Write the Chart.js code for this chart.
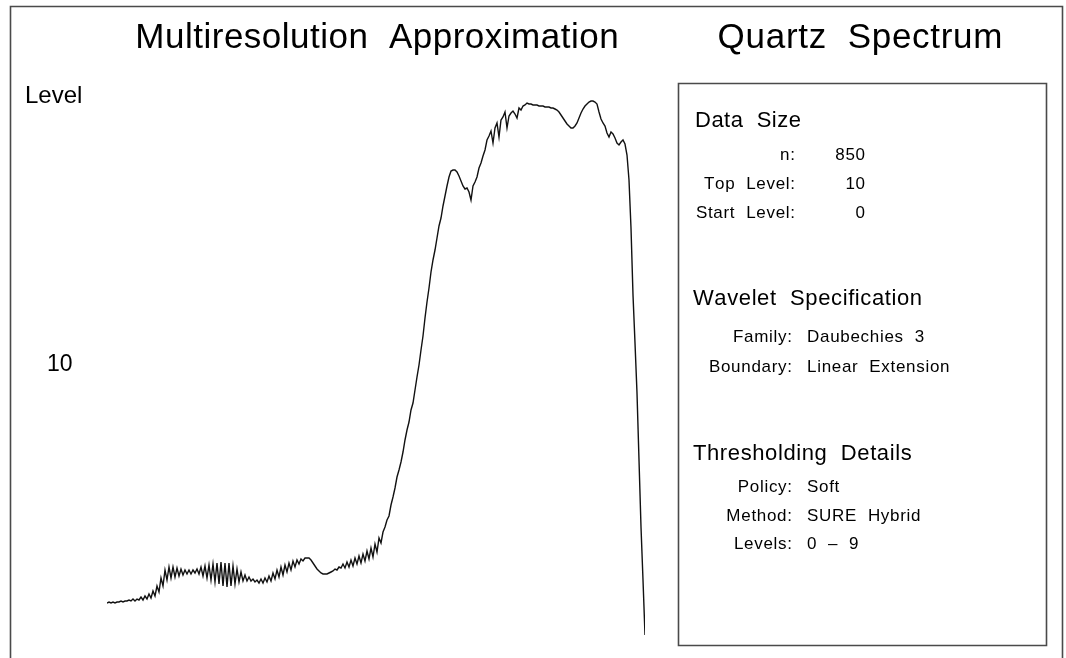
<!DOCTYPE html>
<html>
<head>
<meta charset="utf-8">
<title>Quartz Spectrum</title>
<script src="https://cdn.jsdelivr.net/npm/chart.js@4.4.1/dist/chart.umd.min.js"></script>
<style>
  html, body { margin: 0; padding: 0; background: #ffffff; }
  canvas { display: block; }
</style>
</head>
<body>
<canvas id="c" width="1066" height="658"></canvas>
<script>
// Level-10 reconstruction of the quartz spectrum, in segments (intensity, arbitrary units)
const lowBand = [
  47, 48, 47, 48, 47, 48, 48, 49, 48, 49, 49, 50, 49, 51, 49, 51, 50, 53, 50, 54,
  51, 56, 52, 59, 54, 64, 58, 72, 64, 80, 70, 83, 72, 83, 73, 82, 74, 81, 75, 80,
  76, 80, 76, 80, 77, 81, 76, 83, 74, 84, 72, 85, 70, 86, 68, 87, 66, 88, 64, 87,
  63, 87, 64, 84, 66, 81, 68, 78, 69, 75, 69, 73, 69, 71, 68, 70, 67, 71, 67, 72,
  68, 74, 69, 77, 71, 80, 73, 83, 75, 85, 78, 87, 80, 89, 83, 90, 86, 91, 89, 92,
  92, 92, 90, 87, 84, 81, 79, 77, 76, 76, 76, 77, 78, 79, 81, 80, 83, 82, 86, 82,
  88, 83, 90, 84, 92, 86, 94, 87, 96, 89, 99, 91, 102, 93, 106, 98, 112, 107
];
const rise = [
  118, 123, 130, 134, 145, 153, 162, 173, 180, 188, 198, 210, 220, 228, 240, 247,
  260, 273, 285, 300, 314, 332, 348, 362, 378, 390, 400, 412, 424, 432, 444, 454,
  464, 473, 479, 480
];
const plateau = [
  480, 478, 474, 469, 464, 461, 462, 458, 450, 464, 468, 473, 482, 487, 494, 500,
  510, 514, 519, 507, 522, 527, 513, 530, 533, 538, 522, 534, 537, 539, 536, 532,
  542, 540, 544, 545, 547, 546, 546, 545, 545, 545, 544, 544, 544, 543, 543, 543,
  542, 542, 541, 540, 538, 535, 532, 529, 526, 524, 522, 522, 524, 527, 532, 537,
  541, 544, 546, 548, 549, 549, 548, 546, 538, 531, 527, 524, 517, 513, 518, 516,
  512, 507, 505, 508, 510, 506
];
const falloff = [495, 470, 422, 355, 307, 257, 190, 123, 70, 15];

const intensity = lowBand.concat(rise, plateau, falloff);

// Text shown around the plot and in the summary panel
const titles = ['Multiresolution  Approximation', 'Quartz  Spectrum'];
const levelLabels = ['Level', '10'];
const dataSizeRows = [['n:', '850'], ['Top  Level:', '10'], ['Start  Level:', '0']];
const waveletRows = [['Family:', 'Daubechies  3'], ['Boundary:', 'Linear  Extension']];
const thresholdRows = [['Policy:', 'Soft'], ['Method:', 'SURE  Hybrid'], ['Levels:', '0  –  9']];
const sectionHeads = ['Data  Size', 'Wavelet  Specification', 'Thresholding  Details'];

const FONT = '"Liberation Sans", Arial, Helvetica, sans-serif';

// draw text one glyph at a time with extra tracking
function spaced(ctx, text, x, y, align, track) {
  const chars = Array.from(text);
  const widths = chars.map(ch => ctx.measureText(ch).width);
  const total = widths.reduce((a, b) => a + b, 0) + track * (chars.length - 1);
  let cx = align === 'right' ? x - total : (align === 'center' ? x - total / 2 : x);
  ctx.textAlign = 'left';
  ctx.textBaseline = 'alphabetic';
  chars.forEach((ch, i) => {
    ctx.fillText(ch, cx, y);
    cx += widths[i] + track;
  });
}

const decorations = {
  id: 'decorations',
  beforeDraw(chart) {
    const ctx = chart.ctx;
    ctx.save();
    ctx.fillStyle = '#ffffff';
    ctx.fillRect(0, 0, chart.width, chart.height);
    ctx.restore();
  },
  afterDraw(chart) {
    const ctx = chart.ctx;
    ctx.save();
    // outer frame (open at the bottom)
    ctx.strokeStyle = '#4a4a4a';
    ctx.lineWidth = 1.6;
    ctx.beginPath();
    ctx.moveTo(10.5, 658);
    ctx.lineTo(10.5, 6.5);
    ctx.lineTo(1062.5, 6.5);
    ctx.lineTo(1062.5, 658);
    ctx.stroke();
    // summary panel box
    ctx.beginPath();
    ctx.rect(678.5, 83.5, 368, 562);
    ctx.stroke();

    ctx.fillStyle = '#000000';
    ctx.font = '35px ' + FONT;
    spaced(ctx, titles[0], 377, 48, 'center', 0.5);
    spaced(ctx, titles[1], 860, 48, 'center', 0.7);

    ctx.font = '24px ' + FONT;
    spaced(ctx, levelLabels[0], 25, 103, 'left', 0);
    ctx.font = '23px ' + FONT;
    spaced(ctx, levelLabels[1], 47, 371, 'left', 0);

    // section headings
    ctx.font = '22px ' + FONT;
    spaced(ctx, sectionHeads[0], 695, 127, 'left', 0.5);
    spaced(ctx, sectionHeads[1], 693, 305, 'left', 0.6);
    spaced(ctx, sectionHeads[2], 693, 460, 'left', 0.6);

    // rows
    ctx.font = '17px ' + FONT;
    const t = 0.7;
    const dsY = [160, 189, 218];
    dataSizeRows.forEach((r, i) => {
      spaced(ctx, r[0], 795, dsY[i], 'right', t);
      spaced(ctx, r[1], 865, dsY[i], 'right', t);
    });
    const wvY = [342, 372];
    waveletRows.forEach((r, i) => {
      spaced(ctx, r[0], 792, wvY[i], 'right', t);
      spaced(ctx, r[1], 807, wvY[i], 'left', t);
    });
    const thY = [492, 521, 549];
    thresholdRows.forEach((r, i) => {
      spaced(ctx, r[0], 792, thY[i], 'right', t);
      spaced(ctx, r[1], 807, thY[i], 'left', t);
    });
    ctx.restore();
  }
};

new Chart(document.getElementById('c'), {
  type: 'line',
  data: {
    datasets: [{
      data: intensity.map((v, i) => ({ x: i, y: v })),
      borderColor: '#111111',
      borderWidth: 1.4,
      pointRadius: 0,
      tension: 0,
      fill: false
    }]
  },
  options: {
    responsive: false,
    devicePixelRatio: 1,
    animation: false,
    layout: { padding: { left: 107, right: 421, top: 0, bottom: 8 } },
    scales: {
      x: { type: 'linear', display: false, min: 0, max: intensity.length - 1 },
      y: { type: 'linear', display: false, min: 0, max: 650 }
    },
    plugins: { legend: { display: false }, tooltip: { enabled: false }, title: { display: false } }
  },
  plugins: [decorations]
});
</script>
</body>
</html>
